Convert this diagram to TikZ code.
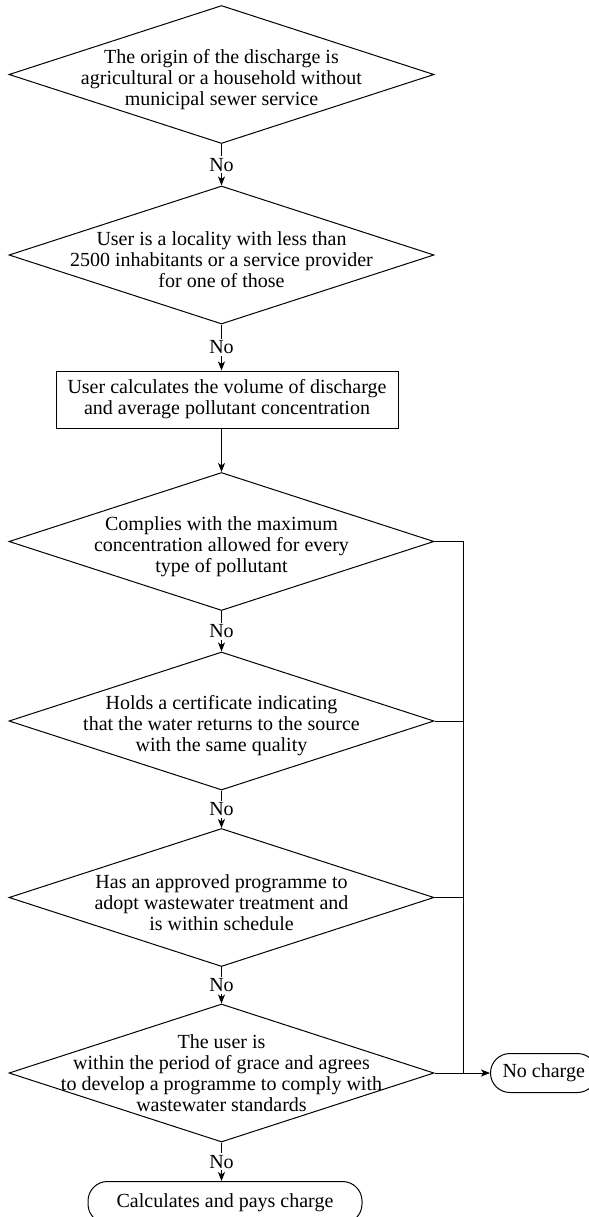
\documentclass[tikz,border=0pt]{standalone}
\usepackage{amsmath}
\usepackage{fontspec}
\setmainfont{Liberation Serif}
\usetikzlibrary{shapes.geometric,arrows.meta}

\begin{document}
\begin{tikzpicture}[x=0.5pt,y=-0.5pt,line width=0.5pt,
  every node/.style={font=\fontsize{10}{10.5}\selectfont},
  decision/.style={diamond,draw,inner sep=0pt,minimum width=212.5pt,minimum height=69pt},
  qtext/.style={align=center,inner sep=0pt},
  process/.style={draw,align=center,minimum width=171pt,minimum height=28.5pt},
  terminal/.style={draw,rounded corners=9.75pt,minimum height=19.5pt},
  flow/.style={-{Stealth[length=4.5pt,width=3.5pt,inset=1.2pt]}},
  answer/.style={fill=white,inner sep=1pt}]
  \useasboundingbox (0,0) rectangle (589,1217);

  \node[decision] (q1) at (221.5,74.5) {};
  \node[qtext] (q1t) at ([yshift=-2.5pt]q1) {The origin of the discharge is\\agricultural or a household without\\municipal sewer service};
  \node[decision] (q2) at (221.5,255) {};
  \node[qtext] (q2t) at ([yshift=-2.5pt]q2) {User is a locality with less than\\2500 inhabitants or a service provider\\for one of those};
  \node[process] (calc) at (227,399.5) {User calculates the volume of discharge\\and average pollutant concentration};
  \node[decision] (q3) at (221.5,541.5) {};
  \node[qtext] (q3t) at ([yshift=-2.5pt]q3) {Complies with the maximum\\concentration allowed for every\\type of pollutant};
  \node[decision] (q4) at (221.5,721) {};
  \node[qtext] (q4t) at ([yshift=-2.5pt]q4) {Holds a certificate indicating\\that the water returns to the source\\with the same quality};
  \node[decision] (q5) at (221.5,897.5) {};
  \node[qtext] (q5t) at ([yshift=-2.5pt]q5) {Has an approved programme to\\adopt wastewater treatment and\\is within schedule};
  \node[decision] (q6) at (221.5,1073) {};
  \node[qtext] (q6t) at (q6) {The user is\\within the period of grace and agrees\\to develop a programme to comply with\\wastewater standards};
  \node[terminal,anchor=west,inner xsep=6pt] (nocharge) at (490,1073) {No charge};
  \node[terminal,anchor=north,minimum width=137pt,minimum height=21pt] (pay) at (225,1181) {Calculates and pays charge};
  \coordinate (bus) at (463,0);

  \draw[flow] (q1.south) -- (q2.north) node[answer,midway]{No};
  \draw[flow] (q2.south) -- (q2.south |- calc.north) node[answer,midway]{No};
  \draw[flow] (calc.south -| q3.north) -- (q3.north);
  \draw[flow] (q3.south) -- (q4.north) node[answer,midway]{No};
  \draw[flow] (q4.south) -- (q5.north) node[answer,midway]{No};
  \draw[flow] (q5.south) -- (q6.north) node[answer,midway]{No};
  \draw[flow] (q6.south) -- (q6.south |- pay.north) node[answer,midway]{No};

  \draw (q3.east) -- (q3.east -| bus) -- (q6.east -| bus);
  \draw (q4.east) -- (q4.east -| bus);
  \draw (q5.east) -- (q5.east -| bus);
  \draw[flow] (q6.east) -- (nocharge.west);
\end{tikzpicture}
\end{document}
